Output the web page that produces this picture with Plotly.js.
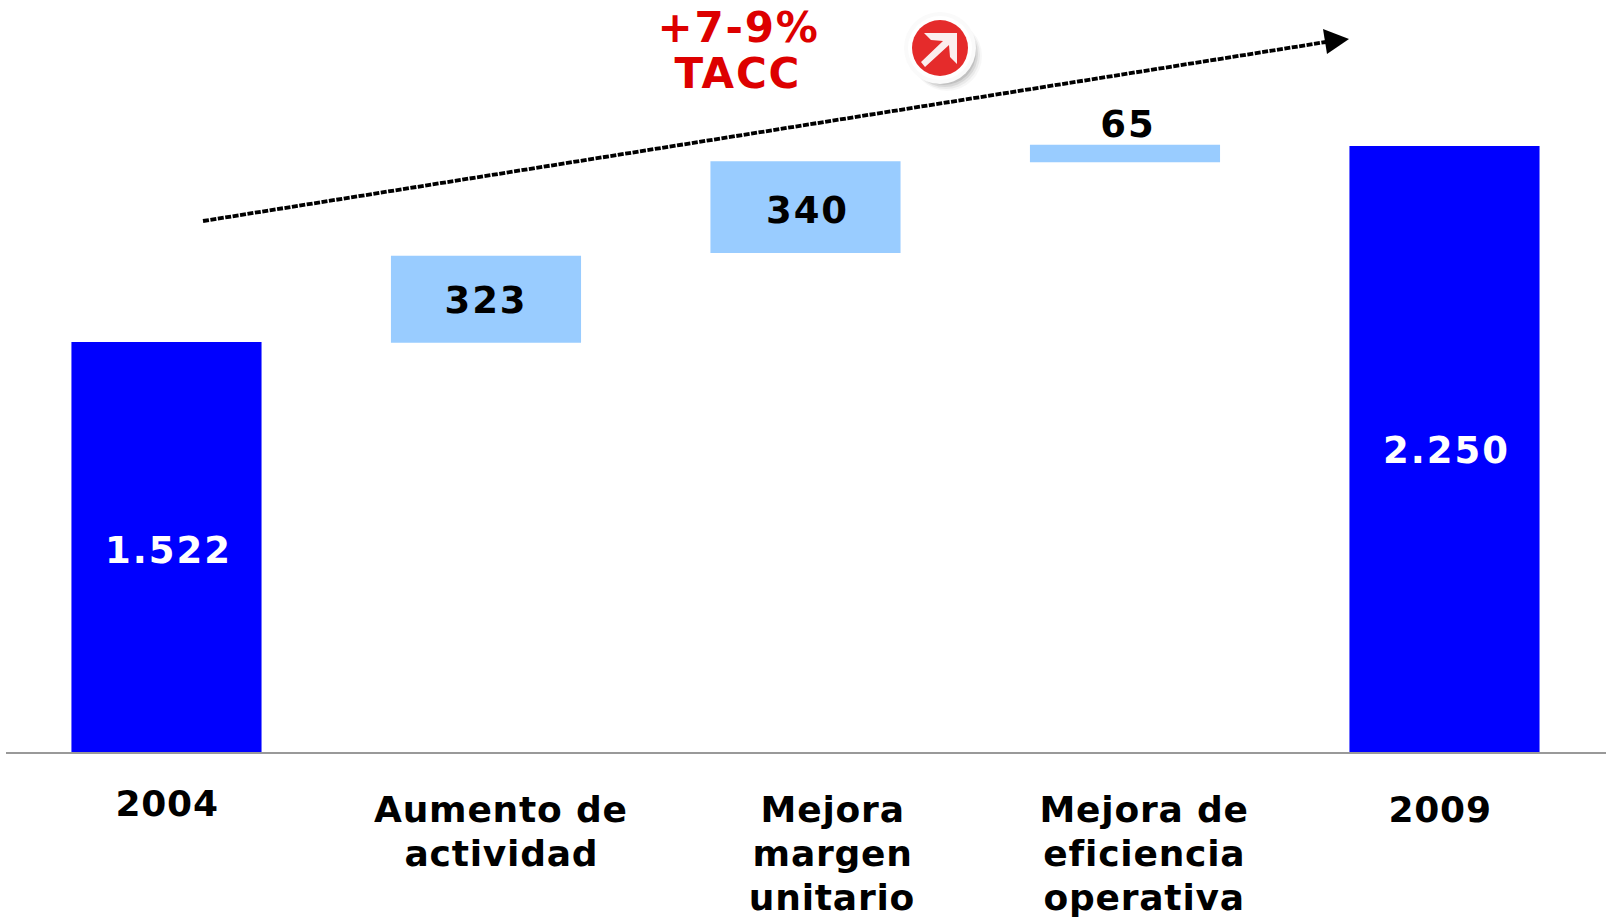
<!DOCTYPE html>
<html><head><meta charset="utf-8">
<script src="https://cdn.plot.ly/plotly-3.0.1.min.js"></script>
<style>
html,body{margin:0;padding:0;background:#fff;overflow:hidden}
#chart{width:1606px;height:919px}
text.bartext{letter-spacing:2px}
.annotation text{letter-spacing:.8px}
.annotation text[style*="rgb(221, 0, 0)"]{letter-spacing:1.8px}
</style></head><body><div id="chart"></div>
<script>
const categories = ['2004','Aumento de<br>actividad','Mejora<br>margen<br>unitario','Mejora de<br>eficiencia<br>operativa','2009'];
const barValues = [1522, 323, 340, 65, 2250];
const barBases = [0, 1519, 1853, 2190, 0];
const barLabels = ['1.522','323','340','65','2.250'];
const barColors = ['#0000ff','#99ccff','#99ccff','#99ccff','#0000ff'];
const labelColors = ['#ffffff','#000000','#000000','#000000','#ffffff'];
const labelPlacement = ['inside','inside','inside','outside','inside'];
const growthLines = ['+7-9%','TACC'];

const W=1606,H=919,L=6,B=752;
const px=(x)=>(x-L)/(W-L), py=(y)=>(B-y)/B;
const pl=(pts)=>'M'+pts.map(p=>px(p[0])+','+py(p[1])).join('L')+'Z';
const circle=(cx,cy,r,color,op)=>({type:'circle',xref:'paper',yref:'paper',x0:px(cx-r),x1:px(cx+r),y0:py(cy+r),y1:py(cy-r),fillcolor:color,opacity:op===undefined?1:op,line:{width:0},layer:'above'});

const labelX=[167,501,832,1144,1440];
const labelY=[804,809,809,809,809];
const annotations=[];
categories.forEach((c,i)=>c.split('<br>').forEach((t,j)=>annotations.push({
  xref:'paper',yref:'paper',x:px(labelX[i]),y:py(labelY[i]+j*44),text:'<b>'+t+'</b>',showarrow:false,
  xanchor:'center',yanchor:'middle',align:'center',font:{family:'DejaVu Sans',size:36,color:'#000'}})));
growthLines.forEach((t,j)=>annotations.push({
  xref:'paper',yref:'paper',x:px(738),y:py(27+j*46.5),text:'<b>'+t+'</b>',showarrow:false,
  xanchor:'center',yanchor:'middle',align:'center',font:{family:'DejaVu Sans',size:42,color:'#dd0000'}}));

const iy=1;
const shapes=[
 {type:'line',xref:'paper',yref:'paper',x0:px(203),y0:py(221),x1:px(1326),y1:py(42),line:{color:'#000',width:3.8,dash:'6px,1.5px'},layer:'above'},
 {type:'path',xref:'paper',yref:'paper',path:pl([[1349,39],[1323,29],[1327,54]]),fillcolor:'#000',line:{width:0},layer:'above'},
 circle(947,55+iy,35,'#000',0.03),circle(946,54+iy,34,'#000',0.05),circle(945,53+iy,33,'#000',0.08),circle(944,52+iy,32,'#000',0.1),
 circle(940,47+iy,36,'#fafafa'),circle(940,47+iy,32,'#ffffff'),circle(940,47+iy,28,'#e52b2b'),
 {type:'path',xref:'paper',yref:'paper',path:pl([[924,32],[957,32],[957,63],[950,56],[949,44],[925,66],[921,61],[943,40],[931,39]].map(p=>[p[0],p[1]+iy])),fillcolor:'#fbeeee',line:{width:0},layer:'above'}
];

Plotly.newPlot('chart',[{
 type:'bar',x:[0,1,2,3,4],y:barValues,base:barBases,width:0.595,
 marker:{color:barColors,line:{width:0}},
 text:barLabels,textposition:labelPlacement,constraintext:'none',cliponaxis:false,
 insidetextanchor:'middle',
 textfont:{family:'DejaVu Sans',size:37,color:labelColors,weight:'bold'},
 hoverinfo:'skip'
}],{
 width:W,height:H,margin:{l:L,r:0,t:0,b:H-B,pad:0},
 paper_bgcolor:'#fff',plot_bgcolor:'#fff',showlegend:false,
 xaxis:{type:'linear',range:[-0.5023,4.5055],showgrid:false,zeroline:false,showticklabels:false,ticks:'',showline:true,linecolor:'#999',linewidth:2},
 yaxis:{range:[0,2792],showgrid:false,zeroline:false,showticklabels:false,ticks:'',showline:false},
 annotations,shapes
},{displayModeBar:false,staticPlot:true}).then(()=>{
 const nudgeX=[2,0,2,3,2], nudgeY=[3,1,3,4,2];
 document.querySelectorAll('text.bartext').forEach((t,i)=>{t.setAttribute('dx',nudgeX[i]);t.setAttribute('dy',nudgeY[i]);});
});
</script></body></html>
